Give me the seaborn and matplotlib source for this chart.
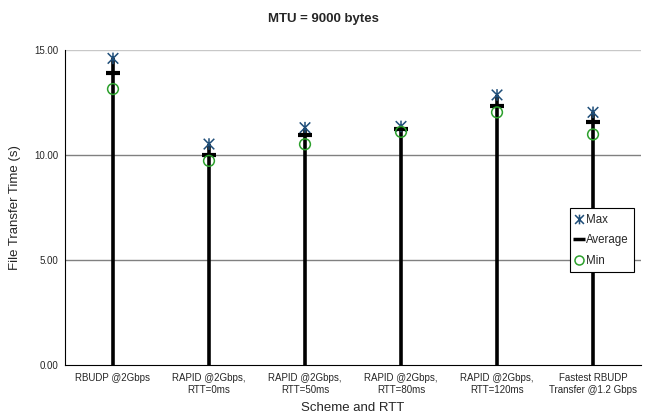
import numpy as np
import pandas as pd
import matplotlib
matplotlib.use("Agg")
import matplotlib.pyplot as plt
from matplotlib.path import Path
from matplotlib.lines import Line2D
import seaborn as sns

sns.set_style("white")
plt.rcParams['font.family'] = ['Liberation Sans', 'DejaVu Sans']

# data
schemes = ["RBUDP @2Gbps", "RAPID @2Gbps,\nRTT=0ms", "RAPID @2Gbps,\nRTT=50ms",
           "RAPID @2Gbps,\nRTT=80ms", "RAPID @2Gbps,\nRTT=120ms",
           "Fastest RBUDP\nTransfer @1.2 Gbps"]
t_max = [14.60, 10.52, 11.30, 11.36, 12.86, 12.03]
t_avg = [13.89, 10.00, 10.95, 11.22, 12.35, 11.57]
t_min = [13.14, 9.72, 10.51, 11.10, 12.03, 10.98]

df = pd.DataFrame({"scheme": schemes, "Max": t_max, "Average": t_avg, "Min": t_min})
df["pos"] = np.arange(len(df))

# Excel-style star marker: X with a vertical bar
star = Path([(-1, -1), (1, 1), (-1, 1), (1, -1), (0, -1.1), (0, 1.1)],
            [Path.MOVETO, Path.LINETO, Path.MOVETO, Path.LINETO, Path.MOVETO, Path.LINETO])
c_max, c_min = "#1f4e79", "#2ca02c"

fig = plt.figure(figsize=(6.46, 4.19), dpi=100)
ax = fig.add_axes([0.1006, 0.1289, 0.8917, 0.7518])

for yv, c in [(5, "#808080"), (10, "#808080"), (15, "#c8c8c8")]:
    ax.axhline(yv, color=c, lw=1, zorder=0)

ax.vlines(df["pos"], 0, df["Max"], color="black", lw=2.6, zorder=2)

sns.scatterplot(data=df, x="pos", y="Max", marker=star, s=70, facecolor="none",
                edgecolor=c_max, linewidth=1.1, ax=ax, zorder=4)
sns.scatterplot(data=df, x="pos", y="Average", marker="_", s=110, facecolor="black",
                edgecolor="black", linewidth=3, ax=ax, zorder=4)
sns.scatterplot(data=df, x="pos", y="Min", marker="o", s=60, facecolor="none",
                edgecolor=c_min, linewidth=1.1, ax=ax, zorder=4)

ax.set_xlim(-0.5, len(df) - 0.5)
ax.set_ylim(0, 15)
ax.set_yticks([0, 5, 10, 15])
ax.set_yticklabels(["0.00", "5.00", "10.00", "15.00"], fontsize=7)
ax.set_xticks(df["pos"])
ax.set_xticklabels(df["scheme"], fontsize=7)
ax.set_xticks(np.arange(-0.5, len(df)), minor=True)
ax.tick_params(axis="x", which="major", length=0, pad=6)
ax.tick_params(axis="x", which="minor", length=5, direction="inout", width=0.8)
ax.tick_params(axis="y", length=5, direction="inout", width=0.8, pad=2)

for side in ["top", "right"]:
    ax.spines[side].set_visible(False)
for side in ["left", "bottom"]:
    ax.spines[side].set_color("black")
    ax.spines[side].set_linewidth(0.8)

ax.set_xlabel("Scheme and RTT", fontsize=9.5, labelpad=5)
ax.set_ylabel("File Transfer Time (s)", fontsize=9.5, labelpad=10)
fig.suptitle("MTU = 9000 bytes", fontsize=9.5, fontweight="bold", y=0.968)

handles = [
    Line2D([], [], ls="none", marker=star, ms=7, mfc="none", mec=c_max, mew=1.1),
    Line2D([], [], ls="none", marker="_", ms=9, mec="black", mew=2.5),
    Line2D([], [], ls="none", marker="o", ms=6.5, mfc="none", mec=c_min, mew=1.1),
]
leg = ax.legend(handles, ["Max", "Average", "Min"], loc="upper left",
                bbox_to_anchor=(0.876, 0.497), fontsize=8.3,
                frameon=True, fancybox=False, edgecolor="black", framealpha=1,
                handlelength=0.7, handletextpad=0.3, borderpad=0.45, labelspacing=0.75,
                borderaxespad=0)
leg.get_frame().set_linewidth(0.8)
leg.set_zorder(10)

fig.savefig("out.png", dpi=100)
